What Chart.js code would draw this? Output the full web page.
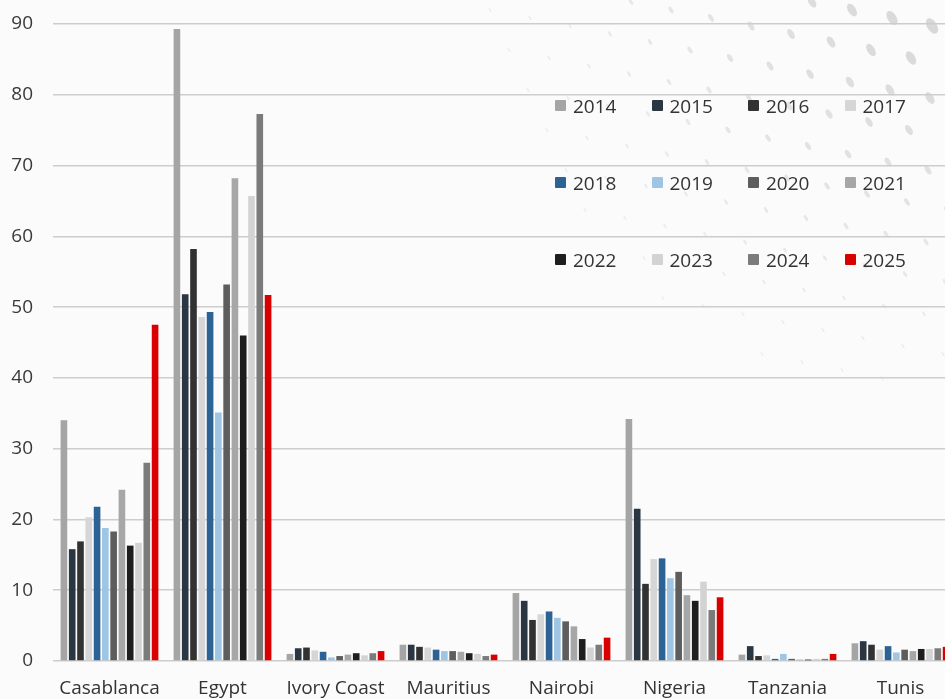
<!DOCTYPE html>
<html>
<head>
<meta charset="utf-8">
<script src="https://cdn.jsdelivr.net/npm/chart.js@4"></script>
<style>
  html,body{margin:0;padding:0;background:#fbfbfb;overflow:hidden;width:945px;height:699px;}
  #wrap{position:relative;width:960px;height:699px;}
  #legend{position:absolute;left:553px;top:94px;display:grid;grid-template-columns:repeat(4,96.5px);grid-auto-rows:77px;
    font-family:"Open Sans",sans-serif;font-size:19px;color:#333;}
  #legend .it{display:flex;align-items:flex-start;height:24px;line-height:24px;}
  #legend .bx{width:11px;height:11px;margin:6px 7px 0 2px;border-radius:1px;}
</style>
</head>
<body>
<div id="wrap">
  <canvas id="c" width="960" height="699"></canvas>
  <div id="legend"></div>
</div>
<script>
// categorias
const cities = ["Casablanca","Egypt","Ivory Coast","Mauritius","Nairobi","Nigeria","Tanzania","Tunis"];
const years  = ["2014","2015","2016","2017","2018","2019","2020","2021","2022","2023","2024","2025"];
const yTicks = [0,10,20,30,40,50,60,70,80,90];

// valores por año (orden = cities)
const v2014 = [34.0, 89.3, 1.0, 2.3, 9.6, 34.2, 0.9, 2.5];
const v2015 = [15.8, 51.8, 1.8, 2.3, 8.5, 21.5, 2.1, 2.8];
const v2016 = [16.9, 58.2, 1.9, 2.0, 5.8, 10.9, 0.7, 2.3];
const v2017 = [20.3, 48.6, 1.5, 1.9, 6.6, 14.4, 0.8, 1.6];
const v2018 = [21.8, 49.3, 1.3, 1.6, 7.0, 14.5, 0.3, 2.1];
const v2019 = [18.8, 35.1, 0.5, 1.4, 6.1, 11.7, 1.0, 1.2];
const v2020 = [18.3, 53.2, 0.7, 1.4, 5.6, 12.6, 0.3, 1.6];
const v2021 = [24.2, 68.2, 0.9, 1.3, 4.9, 9.3, 0.2, 1.4];
const v2022 = [16.3, 46.0, 1.1, 1.1, 3.1, 8.5, 0.2, 1.7];
const v2023 = [16.7, 65.7, 0.8, 1.0, 1.9, 11.2, 0.3, 1.7];
const v2024 = [28.0, 77.3, 1.1, 0.7, 2.3, 7.2, 0.3, 1.8];
const v2025 = [47.5, 51.7, 1.4, 0.9, 3.3, 9.0, 1.0, 2.0];

const series = [v2014,v2015,v2016,v2017,v2018,v2019,v2020,v2021,v2022,v2023,v2024,v2025];
const colors = ["#a5a5a5","#2a3642","#323232","#d6d6d6","#2c6294","#9fc5e4",
                "#5d5d5d","#a7a7a7","#1e1e1e","#d3d3d3","#7b7b7b","#d80000"];

const FONT = "'Open Sans', sans-serif";

const ds = years.map((y,i)=>({
  label: y,
  data: series[i],
  backgroundColor: colors[i],
  borderWidth: 0,
  categoryPercentage: 0.88,
  barPercentage: 0.8
}));

// fondo decorativo (manchas grises arriba a la derecha)
const bgDots = {
  id: 'bgDots',
  beforeDraw(chart){
    const ctx = chart.ctx;
    const a = 58*Math.PI/180;
    ctx.save();
    ctx.fillStyle = "#d2d2d2";
    for(let j=-12;j<14;j++){
      for(let i=-20;i<20;i++){
        const x = 852 + i*40 + j*19;
        const y = 10 + i*8 + j*40;
        if(x<420||x>970||y<-15||y>380) continue;
        const d = Math.hypot(x-990, (y+40)*1.15);
        let s = 1 - d/520;
        if(s<=0.02) continue;
        ctx.globalAlpha = 0.25 + 0.75*s;
        ctx.beginPath();
        ctx.ellipse(x,y,2.5+9*s*s,0.9+6*s*s,a,0,Math.PI*2);
        ctx.fill();
      }
    }
    ctx.restore();
  }
};

new Chart(document.getElementById('c'), {
  type: 'bar',
  data: { labels: cities, datasets: ds },
  plugins: [bgDots],
  options: {
    responsive: false,
    animation: false,
    layout: { padding: { left: 11, right: 3, top: 24, bottom: 0 } },
    plugins: { legend: { display: false }, tooltip: { enabled: false } },
    scales: {
      x: {
        grid: { display: false, drawTicks: false },
        border: { display: false },
        ticks: { color: "#333", font: { family: FONT, size: 19 }, padding: 16, maxRotation: 0 },
        afterFit: ax => { ax.height = 38; ax.paddingLeft = 0; ax.paddingRight = 0; }
      },
      y: {
        min: 0, max: 90,
        afterBuildTicks: ax => { ax.ticks = yTicks.map(v=>({value:v})); },
        grid: { color: "#cdcdcd", lineWidth: 1.5, drawTicks: false },
        border: { display: false },
        ticks: { color: "#3a3a3a", font: { family: FONT, size: 19 }, padding: 20 },
        afterFit: ax => { ax.width = 42; ax.paddingTop = 0; ax.paddingBottom = 0; }
      }
    }
  }
});

// leyenda
const lg = document.getElementById('legend');
years.forEach((y,i)=>{
  const d = document.createElement('div');
  d.className = 'it';
  d.innerHTML = `<span class="bx" style="background:${colors[i]}"></span><span>${y}</span>`;
  lg.appendChild(d);
});
</script>
</body>
</html>
